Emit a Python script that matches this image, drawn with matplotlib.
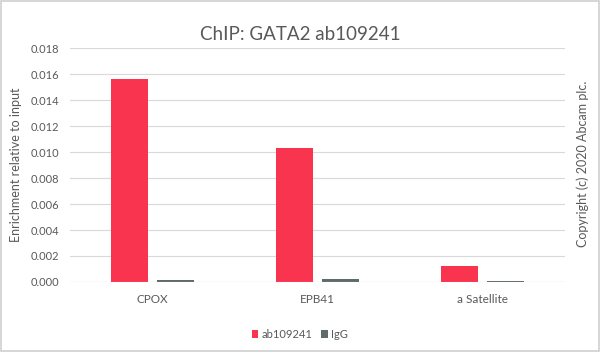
import numpy as np
import matplotlib.pyplot as plt
from matplotlib.patches import Rectangle

categories = ['CPOX', 'EPB41', 'a Satellite']
ab109241 = [0.0156, 0.0103, 0.00123]
igg = [0.00015, 0.00022, 0.00008]
yticks = [0.000, 0.002, 0.004, 0.006, 0.008, 0.010, 0.012, 0.014, 0.016, 0.018]

plt.rcParams['font.family'] = ['Lato', 'DejaVu Sans']
text_col = '#595959'

fig = plt.figure(figsize=(6, 3.52), dpi=100)
ax = fig.add_axes([0.1167, 0.199, 0.825, 0.664])

x = np.arange(len(categories))
w = 0.224
ax.bar(x - 0.142, ab109241, w, color='#F9344F', label='ab109241', zorder=3)
ax.bar(x + 0.142, igg, w, color='#5F6B6B', label='IgG', zorder=3)

ax.set_xlim(-0.5, 2.5)
ax.set_ylim(0, 0.018)
ax.set_yticks(yticks)
ax.set_yticklabels([f'{v:.3f}' for v in yticks])
ax.set_xticks(x)
ax.set_xticklabels(categories)
ax.tick_params(length=0, labelsize=8, colors=text_col, pad=8)
ax.tick_params(axis='x', labelsize=8.5, pad=9)
ax.grid(axis='y', color='#D9D9D9', linewidth=0.8, zorder=0)
for s in ax.spines.values():
    s.set_visible(False)
ax.axhline(0, color='#D0D0D0', linewidth=0.8, zorder=4)

ax.set_ylabel('Enrichment relative to input', fontsize=9, color=text_col, labelpad=6)
fig.text(0.5, 0.903, 'ChIP: GATA2 ab109241', ha='center', va='center',
         fontsize=13.5, color=text_col)
fig.text(0.972, 0.535, 'Copyright (c) 2020 Abcam plc.', rotation=90,
         ha='center', va='center', fontsize=9, color=text_col)

fig.legend(loc='center', bbox_to_anchor=(0.5, 0.05), ncol=2, frameon=False,
           fontsize=8, handlelength=0.6, handleheight=0.6, handletextpad=0.3,
           columnspacing=0.8, labelcolor=text_col)

fig.patches.append(Rectangle((0.002, 0.003), 0.996, 0.994, transform=fig.transFigure,
                             fill=False, edgecolor='#D0D0D0', linewidth=1.2))

fig.savefig('out.png', dpi=100)
